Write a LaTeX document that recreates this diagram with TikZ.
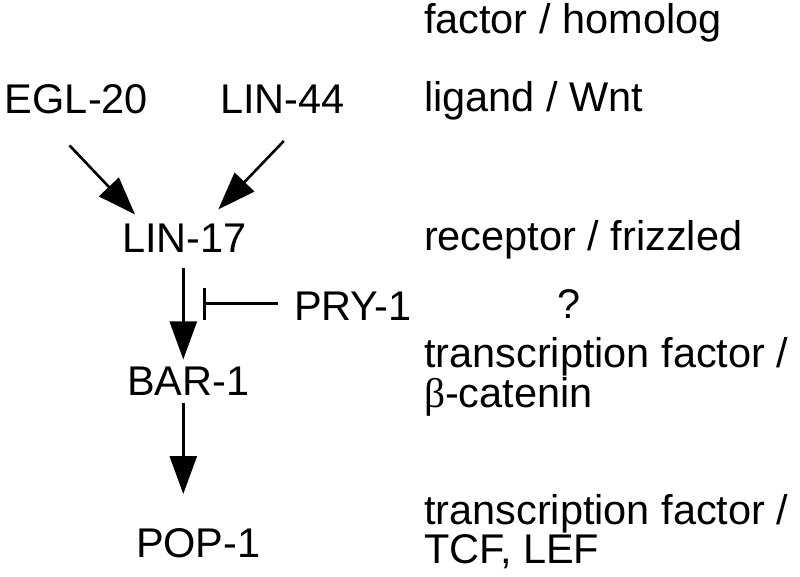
\documentclass[tikz,border=0pt]{standalone}
\usepackage{fontspec}
\setmainfont{Liberation Sans}
\newfontfamily\betafont{Liberation Serif}
\usetikzlibrary{arrows.meta,calc}
\begin{document}
\begin{tikzpicture}[x=1pt,y=-1pt,
  lbl/.style={inner sep=0pt, outer sep=0pt, anchor=base west, font=\fontsize{41.5}{37.5}\selectfont, align=left},
  arr/.style={line width=2.6pt, -{Triangle[length=38pt,width=27pt]}},
  inh/.style={line width=2.6pt, -{Bar[width=32pt]}}]
\useasboundingbox (0,0) rectangle (800,576);
\fill[white] (0,0) rectangle (800,576);
% pathway
\node[lbl] (egl) at (5,113) {EGL-20};
\node[lbl] (lin44) at (220,113) {LIN-44};
\node[lbl] (lin17) at (122,252) {LIN-17};
\node[lbl] (pry) at (294,320) {PRY-1};
\node[lbl] (bar1) at (127,395) {BAR-1};
\node[lbl] (pop1) at (136,557) {POP-1};
% right column (multi-line nodes: base = last line)
\node[lbl] (hdr) at (424,33) {factor / homolog};
\node[lbl] (rwnt) at (424,111) {ligand / Wnt};
\node[lbl] (rfz) at (424,250) {receptor / frizzled};
\node[lbl] (q) at (557,318) {?};
\node[lbl] (rbcat) at (424,407) {transcription factor /\\{\betafont β}-catenin};
\node[lbl] (rtcf) at (424,563) {transcription factor /\\TCF, LEF};
% connectors
\draw[arr] ($(egl.south)+(-7,32)$) -- ($(lin17.north west)+(13,-9)$);
\draw[arr] ($(lin44.south)+(1.5,28)$) -- ($(lin17.north)+(34,-14)$);
\draw[arr] ($(lin17.south)+(-1,16)$) -- ($(lin17.south |- bar1.north)+(-1,-7)$);
\draw[arr] ($(lin17.south |- bar1.south)+(-1,8)$) -- ($(lin17.south |- pop1.north)+(-1,-34)$);
\draw[inh] ($(pry.west)+(-16,-2)$) -- ($(pry.west -| lin17.south)+(19,-2)$);
\end{tikzpicture}
\end{document}
